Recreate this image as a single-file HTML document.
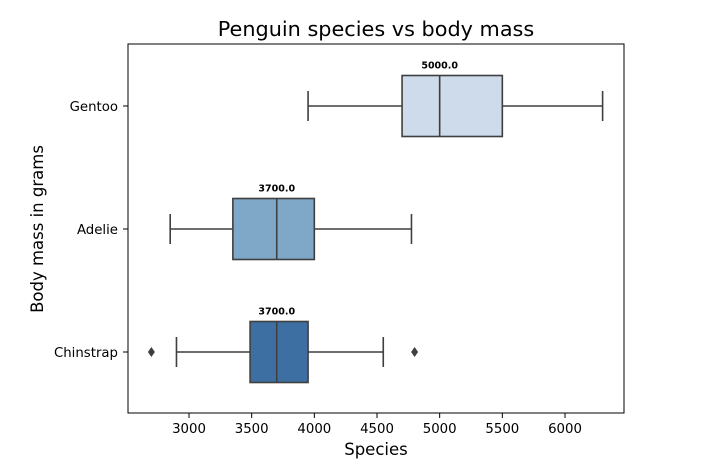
<!DOCTYPE html>
<html><head><meta charset="utf-8"><style>
body{margin:0;background:#fff;}
svg{display:block;font-family:"DejaVu Sans","Liberation Sans",sans-serif;}
</style></head><body>
<svg id="chart" width="718" height="466">
<text x="376" y="36" font-size="20.8" text-anchor="middle" fill="#000">Penguin species vs body mass</text>
<g id="plot"></g>
<rect x="128" y="44" width="496" height="369" fill="none" stroke="#000" stroke-width="1"/>
<text x="376" y="455" font-size="16.5" text-anchor="middle">Species</text>
<text transform="translate(43,229) rotate(-90)" font-size="16.5" text-anchor="middle">Body mass in grams</text>
</svg>
<script>
const categories=["Gentoo","Adelie","Chinstrap"];
const whiskerLow=[3950,2850,2900];
const q1=[4700,3350,3487.5];
const median=[5000,3700,3700];
const q3=[5500,4000,3950];
const whiskerHigh=[6300,4775,4550];
const outliers=[[],[],[2700,4800]];
const colors=["#cddbea","#7fa7c8","#3e6fa3"];
const xTicks=[3000,3500,4000,4500,5000,5500,6000];
const NS="http://www.w3.org/2000/svg";
const g=document.getElementById("plot");
function x(v){return 189+(v-3000)*(376/3000);}
function y(i){return 106+i*123;}
function mk(t,a,p){const e=document.createElementNS(NS,t);for(const k in a)e.setAttribute(k,a[k]);(p||g).appendChild(e);return e;}
const st="#3f3f3f";
xTicks.forEach(v=>{
 const l=mk("line",{x1:x(v),x2:x(v),y1:413,y2:418,stroke:"#000"});
 
 
 const t=mk("text",{x:x(v),y:433,"font-size":13.3,"text-anchor":"middle"});
 t.textContent=v;
 
 
});
categories.forEach((c,i)=>{
 const cy=y(i),h=61;
 const tk=mk("line",{x1:123,x2:128,y1:cy,y2:cy,stroke:"#000"});
 
 
 const t=mk("text",{x:118,y:cy+5,"font-size":13.3,"text-anchor":"end"});
 t.textContent=c;
 
 
 const grp=mk("g",{});
 
 
 mk("line",{x1:x(whiskerLow[i]),x2:x(q1[i]),y1:cy,y2:cy,stroke:st,"stroke-width":1.6},grp);
 mk("line",{x1:x(q3[i]),x2:x(whiskerHigh[i]),y1:cy,y2:cy,stroke:st,"stroke-width":1.6},grp);
 mk("line",{x1:x(whiskerLow[i]),x2:x(whiskerLow[i]),y1:cy-15,y2:cy+15,stroke:st,"stroke-width":1.6},grp);
 mk("line",{x1:x(whiskerHigh[i]),x2:x(whiskerHigh[i]),y1:cy-15,y2:cy+15,stroke:st,"stroke-width":1.6},grp);
 mk("rect",{x:x(q1[i]),y:cy-h/2,width:x(q3[i])-x(q1[i]),height:h,fill:colors[i],stroke:st,"stroke-width":1.6},grp);
 mk("line",{x1:x(median[i]),x2:x(median[i]),y1:cy-h/2,y2:cy+h/2,stroke:st,"stroke-width":1.6},grp);
 outliers[i].forEach(o=>{
  const d=mk("path",{d:`M${x(o)},${cy-5} L${x(o)+3.5},${cy} L${x(o)},${cy+5} L${x(o)-3.5},${cy} Z`,fill:st},grp);
  
  
 });
 const lb=mk("text",{x:x(median[i]),y:cy-h/2-7,"font-size":9.5,"font-weight":"bold","text-anchor":"middle"});
 lb.textContent=median[i].toFixed(1);
 
 
});
</script>
</body></html>
